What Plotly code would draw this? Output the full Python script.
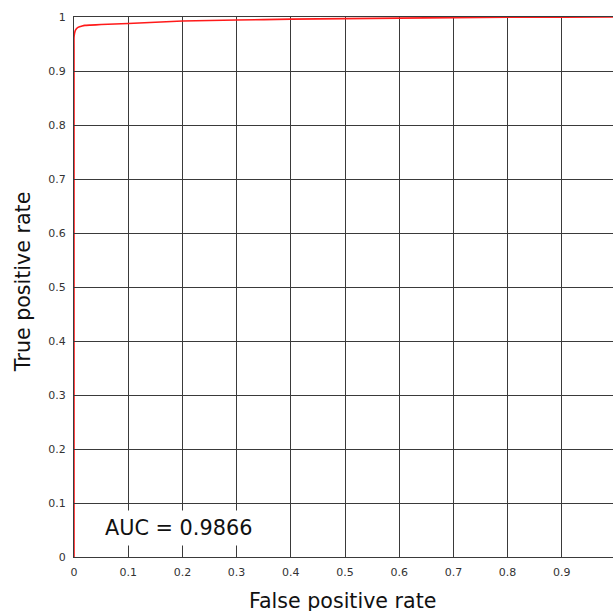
import plotly.graph_objects as go

fpr = [0.0, 0.0, 0.0, 0.001, 0.003, 0.006, 0.01, 0.015, 0.02, 0.03, 0.05, 0.1, 0.2, 0.3, 0.4, 0.5, 0.6, 0.7, 0.8, 0.9, 1.0]
tpr = [0.0, 0.94, 0.962, 0.970, 0.976, 0.980, 0.982, 0.9835, 0.9845, 0.985, 0.986, 0.988, 0.9925, 0.9944, 0.996, 0.997, 0.998, 0.9988, 0.9994, 0.9998, 1.0]
tick_vals = [0, 0.1, 0.2, 0.3, 0.4, 0.5, 0.6, 0.7, 0.8, 0.9, 1]
tick_text = ["0", "0.1", "0.2", "0.3", "0.4", "0.5", "0.6", "0.7", "0.8", "0.9", "1"]
auc_label = "AUC = 0.9866"
x_title = "False positive rate"
y_title = "True positive rate"

FONT = "DejaVu Sans"
W, H = 630, 611
ML, MT, MB, MR = 74, 17, 54, 14

fig = go.Figure()
fig.add_trace(go.Scatter(x=fpr, y=tpr, mode="lines",
                         line=dict(color="#ff1a1a", width=1.6, shape="spline", smoothing=0.3),
                         hoverinfo="skip", showlegend=False, cliponaxis=False))

axis_common = dict(
    showgrid=True, gridcolor="#3a3a3a", gridwidth=1,
    showline=True, linecolor="#3a3a3a", linewidth=1, mirror=True,
    ticks="inside", ticklen=10, tickcolor="#3a3a3a", tickwidth=1,
    tickvals=tick_vals, ticktext=tick_text,
    tickfont=dict(family=FONT, size=11, color="#333333"),
    zeroline=False, automargin=False,
)
fig.update_xaxes(range=[0, 1], ticklabelstandoff=5, **axis_common)
fig.update_yaxes(range=[0, 1], ticklabelstandoff=5, **axis_common)

title_font = dict(family=FONT, size=20.6, color="#111111")
fig.add_annotation(x=0.4956, y=-0.0815, xref="paper", yref="paper", text=x_title,
                   showarrow=False, font=title_font, xanchor="center", yanchor="middle")
fig.add_annotation(x=-0.0941, y=0.509, xref="paper", yref="paper", text=y_title,
                   showarrow=False, font=title_font, textangle=-90,
                   xanchor="center", yanchor="middle")

fig.add_annotation(x=0.1937, y=0.0537, xref="x", yref="y", text=auc_label, showarrow=False,
                   font=dict(family=FONT, size=20.8, color="#111111"), bgcolor="white", borderpad=5)

fig.update_layout(width=W, height=H, margin=dict(l=ML, r=MR, t=MT, b=MB, autoexpand=False),
                  plot_bgcolor="white", paper_bgcolor="white",
                  font=dict(family=FONT))
fig.write_html("out.html", config={"displayModeBar": False},
               post_script="document.body.style.margin='0';document.body.style.overflow='hidden';"
                           "document.documentElement.style.overflow='hidden';")
